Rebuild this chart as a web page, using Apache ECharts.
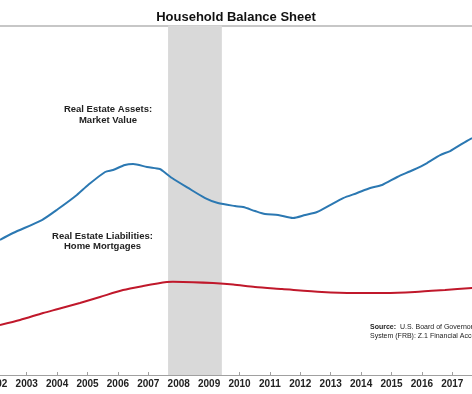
<!DOCTYPE html>
<html>
<head>
<meta charset="utf-8">
<script src="https://cdn.jsdelivr.net/npm/echarts@6/dist/echarts.min.js"></script>
<style>html,body{margin:0;padding:0;background:#fff;}#c{width:472px;height:394px;}</style>
</head>
<body>
<div id="c"></div>
<script>
// Real estate assets: market value (approx. trillions)
var assetYears  = [2002.12,2002.55,2003.50,2004.03,2004.65,2005.02,2005.58,2005.84,2006.23,2006.50,2006.96,2007.38,2007.48,2007.78,2008.31,2008.87,2009.29,2009.85,2010.12,2010.51,2010.84,2011.27,2011.76,2012.16,2012.55,2012.98,2013.41,2013.87,2014.30,2014.69,2015.19,2015.71,2016.17,2016.60,2016.93,2017.36,2017.65];
var assetValues = [13.52,14.22,15.52,16.62,18.03,19.03,20.33,20.53,21.03,21.13,20.83,20.63,20.43,19.73,18.73,17.72,17.22,16.92,16.82,16.42,16.12,16.02,15.72,16.02,16.32,17.02,17.72,18.23,18.73,19.03,19.83,20.53,21.23,22.03,22.43,23.23,23.73];
// Real estate liabilities: home mortgages
var mortgageYears  = [2002.12,2002.78,2003.54,2004.03,2004.75,2005.41,2006.17,2006.83,2007.61,2007.81,2008.47,2009.13,2009.79,2010.51,2011.40,2012.71,2013.80,2014.78,2015.77,2016.76,2017.65];
var mortgageValues = [5.01,5.51,6.21,6.61,7.21,7.81,8.51,8.91,9.31,9.33,9.30,9.21,9.06,8.81,8.61,8.31,8.21,8.21,8.31,8.51,8.71];
// Recession shading
var recession = [2007.65, 2009.42];
var titleText = 'Household Balance Sheet';
var assetLabel = 'Real Estate Assets:\nMarket Value';
var mortgageLabel = 'Real Estate Liabilities:\nHome Mortgages';
var sourceLine1 = 'U.S. Board of Governors of the Federal Reserve';
var sourceLine2 = 'System (FRB): Z.1 Financial Accounts of the United States';

function pairs(xs, ys){ return xs.map(function(x,i){ return [x, ys[i]]; }); }

var chart = echarts.init(document.getElementById('c'), null, {renderer:'canvas'});
chart.setOption({
  animation: false,
  backgroundColor: '#ffffff',
  title: {
    text: titleText, left: 'center', top: 6,
    textStyle: {fontFamily: 'Liberation Sans, Arial', fontSize: 13, fontWeight: 'bold', color: '#111'}
  },
  grid: {left: -3.7, right: -10.7, top: 25.5, bottom: 19, outerBoundsMode: 'none', containLabel: false},
  xAxis: [{
    type: 'value', min: 2002, max: 2018, interval: 1, position: 'bottom',
    splitLine: {show: false},
    axisLine: {lineStyle: {color: '#a0a0a0', width: 1}},
    axisTick: {inside: true, length: 3, lineStyle: {color: '#a0a0a0'}},
    axisLabel: {showMaxLabel: false, showMinLabel: true, margin: 4,
      fontFamily: 'Liberation Sans, Arial', fontSize: 10, fontWeight: 'bold', color: '#222',
      formatter: function(v){ return String(Math.round(v)); }}
  },{
    type: 'value', min: 2002, max: 2018, position: 'top',
    splitLine: {show: false},
    axisLine: {show: true, lineStyle: {color: '#b4b4b4', width: 1.5}},
    axisTick: {show: false}, axisLabel: {show: false}
  }],
  yAxis: {type: 'value', min: 0, max: 35, show: false, splitLine: {show: false}},
  series: [{
    type: 'line', name: 'Real Estate Assets: Market Value',
    data: pairs(assetYears, assetValues), showSymbol: false, smooth: 0.25,
    lineStyle: {color: '#2b78b2', width: 2}, z: 3,
    markArea: {silent: true, itemStyle: {color: '#d9d9d9'},
      data: [[{xAxis: recession[0]}, {xAxis: recession[1]}]]}
  },{
    type: 'line', name: 'Real Estate Liabilities: Home Mortgages',
    data: pairs(mortgageYears, mortgageValues), showSymbol: false, smooth: 0.25,
    lineStyle: {color: '#c0182b', width: 2}, z: 3
  }],
  graphic: [
    {type: 'text', style: {text: assetLabel, align: 'center', verticalAlign: 'middle',
      font: 'bold 9.5px "Liberation Sans", Arial', fill: '#222', lineHeight: 11}, position: [108, 115]},
    {type: 'text', style: {text: mortgageLabel, align: 'center', verticalAlign: 'middle',
      font: 'bold 9.5px "Liberation Sans", Arial', fill: '#222', lineHeight: 10.5}, position: [102.5, 241.5]},
    {type: 'text', style: {
      text: '{b|Source:}  ' + sourceLine1 + '\n' + sourceLine2,
      align: 'left', verticalAlign: 'top',
      font: '7px "Liberation Sans", Arial', fill: '#222', lineHeight: 9,
      rich: {b: {fontWeight: 'bold', fontSize: 7, fontFamily: 'Liberation Sans', fill: '#222', lineHeight: 9}}
    }, position: [370, 323]}
  ]
});
</script>
</body>
</html>
